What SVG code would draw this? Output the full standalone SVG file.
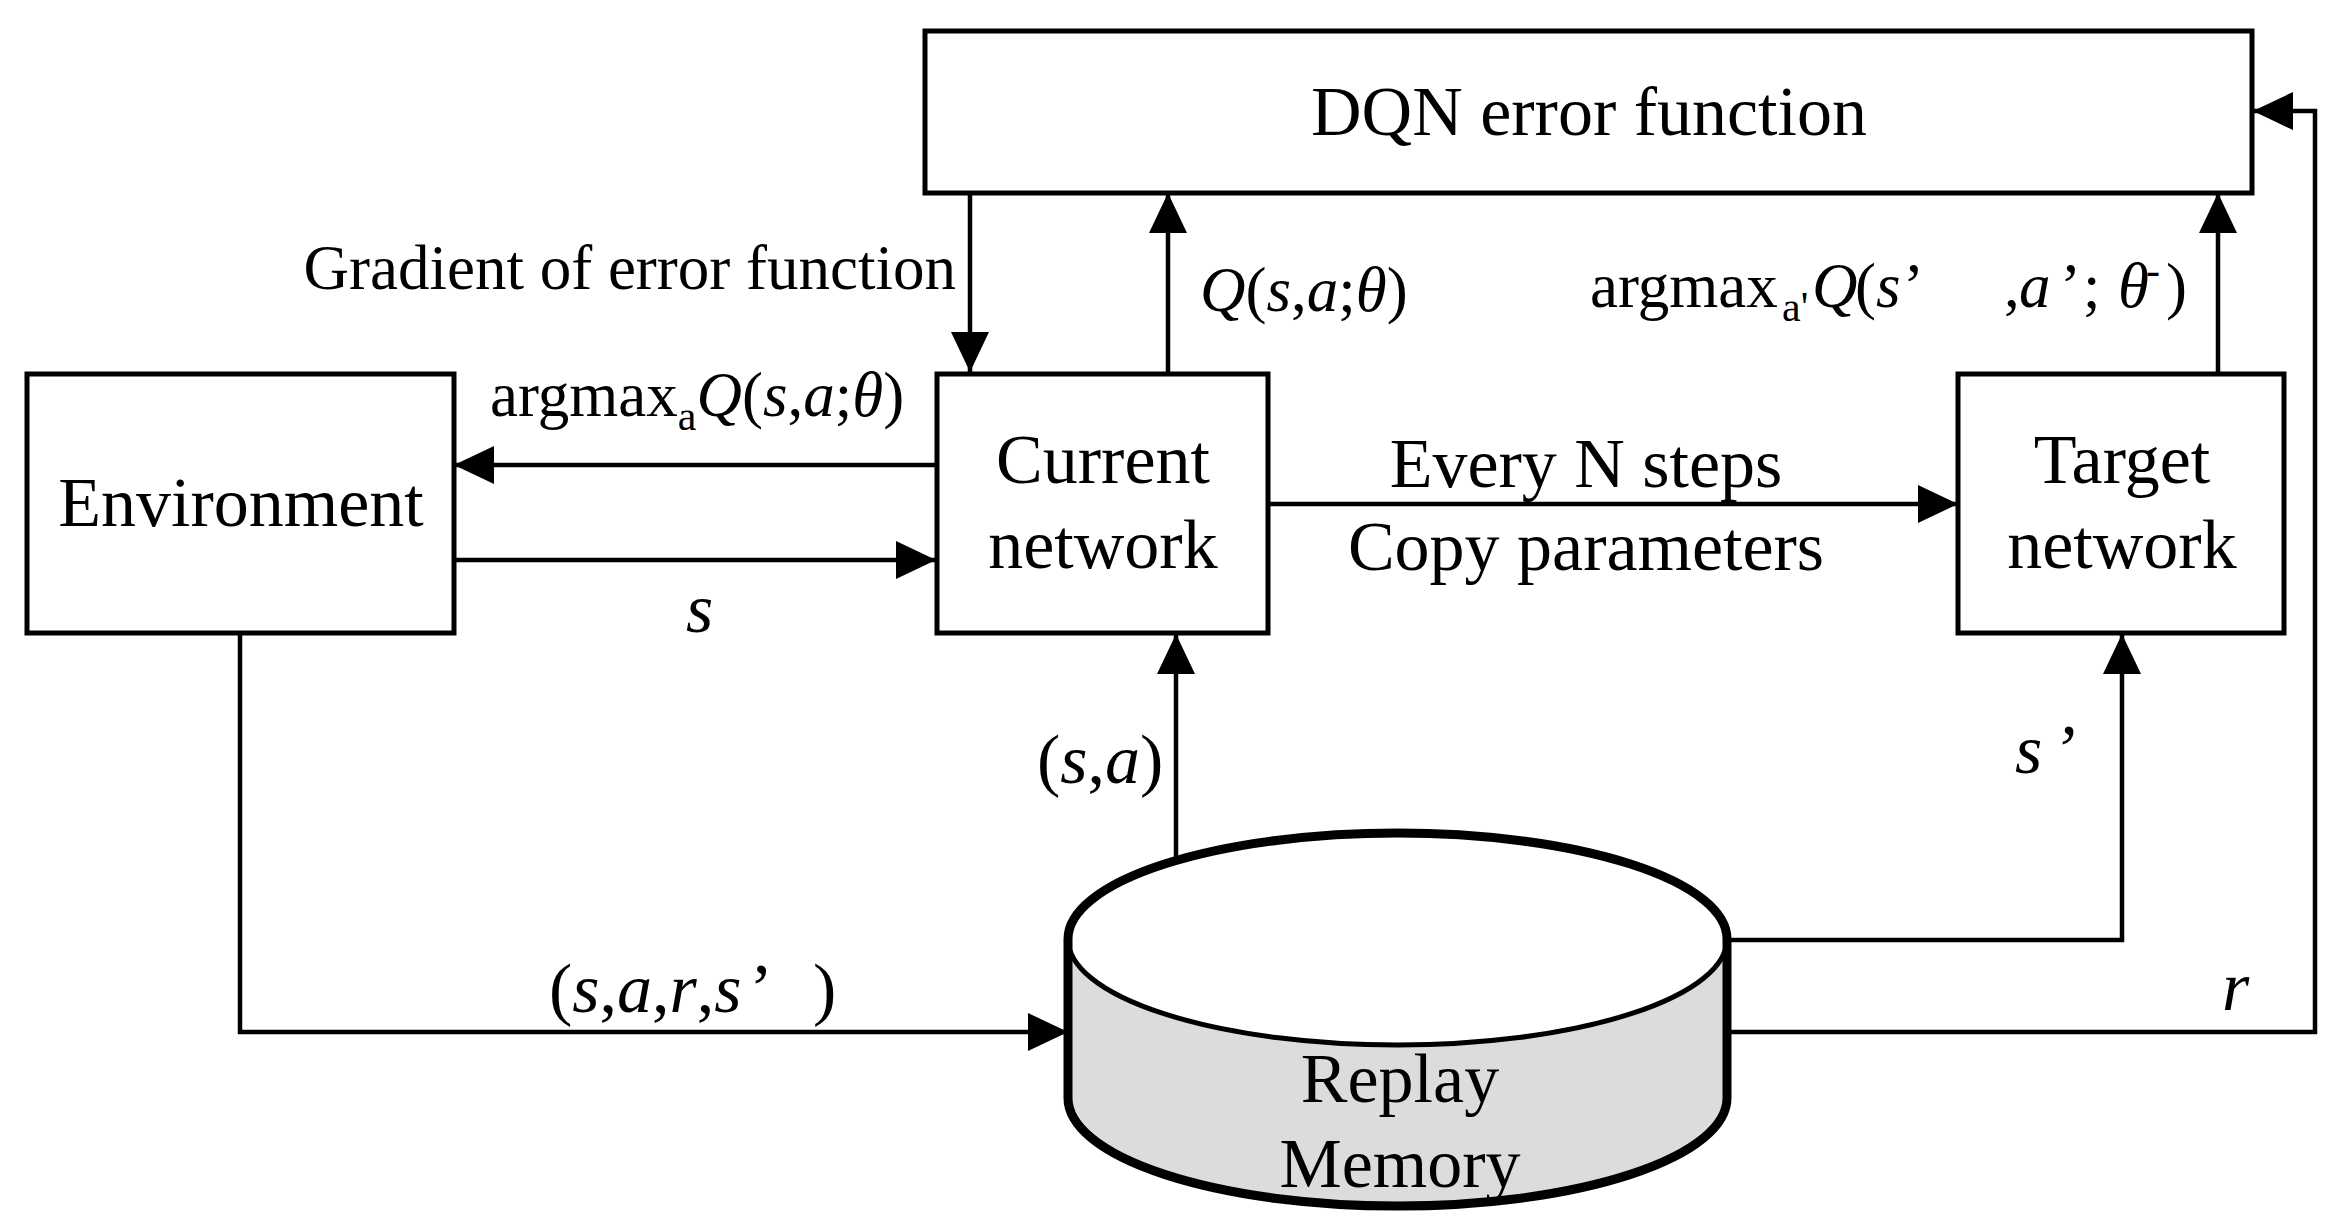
<svg xmlns="http://www.w3.org/2000/svg" width="2351" height="1230" viewBox="0 0 2351 1230">
<style>
.box{fill:#fff;stroke:#000;stroke-width:5}
.con{fill:none;stroke:#000;stroke-width:4.5}
.lbl{font-family:"Liberation Serif","Times New Roman",serif;fill:#000}
.big{font-size:70px}
.mid{font-size:63px}
.it{font-style:italic}
.sub{font-size:42px}
</style>
<defs>
<marker id="ah" markerUnits="userSpaceOnUse" markerWidth="40" markerHeight="40" viewBox="0 0 40 40" refX="40" refY="20" orient="auto">
<path d="M0,1 L40,20 L0,39 Z" fill="#000"/>
</marker>
</defs>
<rect width="2351" height="1230" fill="#fff"/>
<g id="connectors">
<path class="con" d="M970,193 V372" marker-end="url(#ah)"/>
<path class="con" d="M1168,372 V193" marker-end="url(#ah)"/>
<path class="con" d="M2218,372 V193" marker-end="url(#ah)"/>
<path class="con" d="M935,465 H454" marker-end="url(#ah)"/>
<path class="con" d="M454,560 H936" marker-end="url(#ah)"/>
<path class="con" d="M1268,504 H1958" marker-end="url(#ah)"/>
<path class="con" d="M240,634 V1032 H1068" marker-end="url(#ah)"/>
<path class="con" d="M1176,861 V634" marker-end="url(#ah)"/>
<path class="con" d="M1727,940 H2122 V634" marker-end="url(#ah)"/>
<path class="con" d="M1727,1032 H2315 V111 H2253" marker-end="url(#ah)"/>
</g>
<g id="dqn">
<rect class="box" x="925" y="31" width="1327" height="162"/>
<text class="lbl big" x="1589" y="135" text-anchor="middle">DQN error function</text>
</g>
<g id="environment">
<rect class="box" x="27" y="374" width="427" height="259"/>
<text class="lbl big" x="241" y="526" text-anchor="middle">Environment</text>
</g>
<g id="current">
<rect class="box" x="937" y="374" width="331" height="259"/>
<text class="lbl big" x="1103" y="483" text-anchor="middle">Current</text>
<text class="lbl big" x="1103" y="568" text-anchor="middle">network</text>
</g>
<g id="target">
<rect class="box" x="1958" y="374" width="326" height="259"/>
<text class="lbl big" x="2122" y="483" text-anchor="middle">Target</text>
<text class="lbl big" x="2122" y="568" text-anchor="middle">network</text>
</g>
<g id="replay-memory">
<path d="M1068,939 V1098 A329,108 0 0 0 1727,1098 V939 Z" fill="#dcdcdc"/>
<ellipse cx="1397.5" cy="939" rx="329.5" ry="106" fill="#fff"/>
<path d="M1068,939 A329.5,106 0 0 0 1727,939" fill="none" stroke="#000" stroke-width="5"/>
<path d="M1068,1098 V939 A329.5,106 0 0 1 1727,939 V1098 A329.5,108 0 0 1 1068,1098 Z" fill="none" stroke="#000" stroke-width="9"/>
<text class="lbl big" x="1400" y="1102" text-anchor="middle">Replay</text>
<text class="lbl big" x="1400" y="1187" text-anchor="middle">Memory</text>
</g>
<g id="labels">
<text class="lbl mid" x="956" y="289" text-anchor="end">Gradient of error function</text>
<text class="lbl mid" x="490" y="416">argmax<tspan class="sub" dy="14">a</tspan><tspan class="it" dy="-14">Q</tspan>(<tspan class="it">s</tspan>,<tspan class="it">a</tspan>;<tspan class="it">θ</tspan>)</text>
<text class="lbl mid" x="1200" y="311"><tspan class="it">Q</tspan>(<tspan class="it">s</tspan>,<tspan class="it">a</tspan>;<tspan class="it">θ</tspan>)</text>
<text class="lbl mid"><tspan x="1590" y="307">argmax</tspan><tspan class="sub" x="1782" y="321">a'</tspan><tspan class="it" x="1812" y="307">Q</tspan><tspan x="1855" y="307">(</tspan><tspan class="it" x="1876" y="307">s</tspan><tspan x="1903" y="307">’</tspan><tspan x="2004" y="307">,</tspan><tspan class="it" x="2019" y="307">a</tspan><tspan x="2060" y="307">’</tspan><tspan x="2083" y="307">;</tspan><tspan class="it" x="2118" y="307">θ</tspan><tspan class="sub" x="2146" y="284">-</tspan><tspan x="2166" y="307">)</tspan></text>
<text class="lbl big" x="1586" y="487" text-anchor="middle">Every N steps</text>
<text class="lbl big" x="1586" y="570" text-anchor="middle">Copy parameters</text>
<text class="lbl big it" x="686" y="632">s</text>
<text class="lbl big" x="1037" y="783">(<tspan class="it">s</tspan>,<tspan class="it">a</tspan>)</text>
<text class="lbl big it" x="2015" y="773">s<tspan dx="10">’</tspan></text>
<text class="lbl big it" x="2222" y="1010">r</text>
<text class="lbl big" x="549" y="1012">(<tspan class="it">s</tspan>,<tspan class="it">a</tspan>,<tspan class="it">r</tspan>,<tspan class="it">s</tspan><tspan dx="8">’</tspan><tspan dx="40">)</tspan></text>
</g>
</svg>
